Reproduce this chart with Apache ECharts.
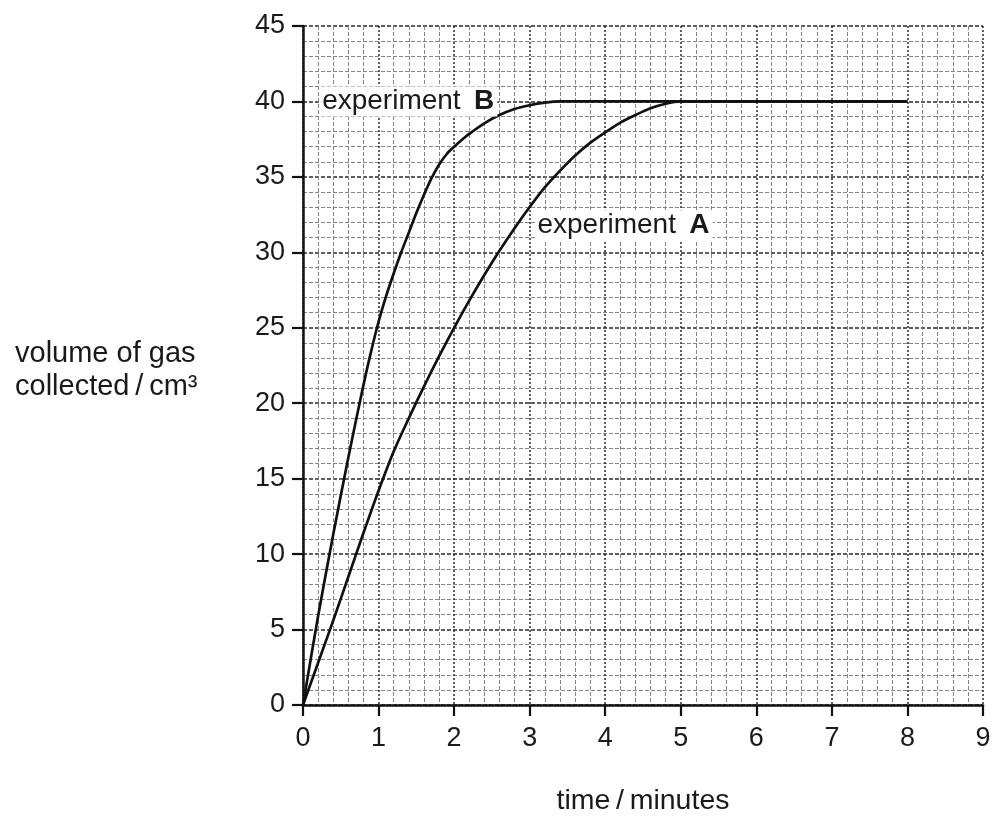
<!DOCTYPE html>
<html>
<head>
<meta charset="utf-8">
<script src="https://cdn.jsdelivr.net/npm/echarts@6/dist/echarts.min.js"></script>
<style>
html,body{margin:0;padding:0;background:#fff;}
#c{width:1000px;height:821px;}
</style>
</head>
<body>
<div id="c"></div>
<script>
// ---- data ----
const xTicks = [0,1,2,3,4,5,6,7,8,9];
const yTicks = [0,5,10,15,20,25,30,35,40,45];
const timeA = [0,0.2,0.4,0.6,0.8,1.0,1.2,1.4,1.6,1.8,2.0,2.2,2.4,2.6,2.8,3.0,3.2,3.4,3.6,3.8,4.0,4.2,4.4,4.6,4.8,5.0,6.0,7.0,8.0];
const volA  = [0,2.8,5.6,8.5,11.4,14.2,16.8,19.0,21.1,23.1,25.0,26.8,28.5,30.1,31.6,33.0,34.3,35.4,36.4,37.25,37.95,38.6,39.1,39.55,39.85,40,40,40,40];
const timeB = [0,0.2,0.4,0.6,0.8,0.9,1.0,1.1,1.2,1.3,1.4,1.5,1.6,1.7,1.8,1.9,2.0,2.1,2.2,2.4,2.6,2.8,3.0,3.2,3.4,4.0,5.0,6.0,7.0,8.0];
const volB  = [0,5.9,11.3,16.4,21.2,23.4,25.4,27.1,28.6,30.0,31.3,32.6,33.8,34.9,35.8,36.5,37.0,37.45,37.85,38.55,39.1,39.5,39.75,39.92,40,40,40,40,40,40];
const curveLabels = [
  {name:'experiment', letter:'B', x:0.24, y:40},
  {name:'experiment', letter:'A', x:3.09, y:31.8}
];
const xTitle = 'time\u2009/\u2009minutes';
const yTitleLines = ['volume of gas', 'collected\u2009/\u2009cm\u00B3'];

const zip = (xs, ys) => xs.map((x,i)=>[x, ys[i]]);
const FONT = 'Liberation Sans, Arial, Helvetica, sans-serif';
const TXT = '#1a1a1a';

const chart = echarts.init(document.getElementById('c'), null, {renderer:'canvas'});
chart.setOption({
  backgroundColor:'#fff',
  animation:false,
  grid:{left:303, right:17, top:26, bottom:114, containLabel:false},
  xAxis:{
    type:'value', min:xTicks[0], max:xTicks[xTicks.length-1], interval:1,
    name:xTitle, nameLocation:'middle', nameGap:82,
    nameTextStyle:{fontFamily:FONT, fontSize:28.5, color:TXT},
    axisLine:{show:true, onZero:false, lineStyle:{color:'#111', width:2.5}},
    axisTick:{show:true, length:11, lineStyle:{color:'#111', width:2.2}},
    axisLabel:{fontFamily:FONT, fontSize:27, color:TXT, margin:20},
    splitLine:{show:true, lineStyle:{color:'#2a2a2a', width:1.5, type:[2,2]}},
    minorTick:{show:false, splitNumber:5},
    minorSplitLine:{show:true, lineStyle:{color:'#858585', width:1, type:[4,2]}}
  },
  yAxis:{
    type:'value', min:yTicks[0], max:yTicks[yTicks.length-1], interval:5,
    axisLine:{show:true, onZero:false, lineStyle:{color:'#111', width:2.5}},
    axisTick:{show:true, length:11, lineStyle:{color:'#111', width:2.2}},
    axisLabel:{fontFamily:FONT, fontSize:27, color:TXT, margin:18},
    splitLine:{show:true, lineStyle:{color:'#2a2a2a', width:1.5, type:[4,2]}},
    minorTick:{show:false, splitNumber:5},
    minorSplitLine:{show:true, lineStyle:{color:'#858585', width:1, type:[4,2]}}
  },
  graphic:[{
    type:'text', left:15, top:337,
    style:{text:yTitleLines.join('\n'), fontFamily:FONT, fontSize:29, lineHeight:33, fill:TXT}
  }],
  series:[
    {type:'line', name:'A', data:zip(timeA, volA), showSymbol:false, smooth:0.3,
     lineStyle:{color:'#111', width:2.7}, z:3},
    {type:'line', name:'B', data:zip(timeB, volB), showSymbol:false, smooth:0.3,
     lineStyle:{color:'#111', width:2.7}, z:3},
    {type:'scatter', data:curveLabels.map(l=>({value:[l.x,l.y], letter:l.letter, nm:l.name})),
     symbolSize:0, z:4, silent:true, itemStyle:{opacity:1},
     emphasis:{disabled:true},
     label:{show:true, position:'right', distance:0, color:TXT, opacity:1,
       formatter:p=>'{n|'+p.data.nm+'\u00A0\u2009}{b|'+p.data.letter+'}',
       backgroundColor:'#fff', padding:[1,3,1,1],
       rich:{
         n:{fontFamily:FONT, fontSize:28, color:TXT, opacity:1},
         b:{fontFamily:FONT, fontSize:28, fontWeight:'bold', color:TXT, opacity:1}
       }}
    }
  ]
});
</script>
</body>
</html>
